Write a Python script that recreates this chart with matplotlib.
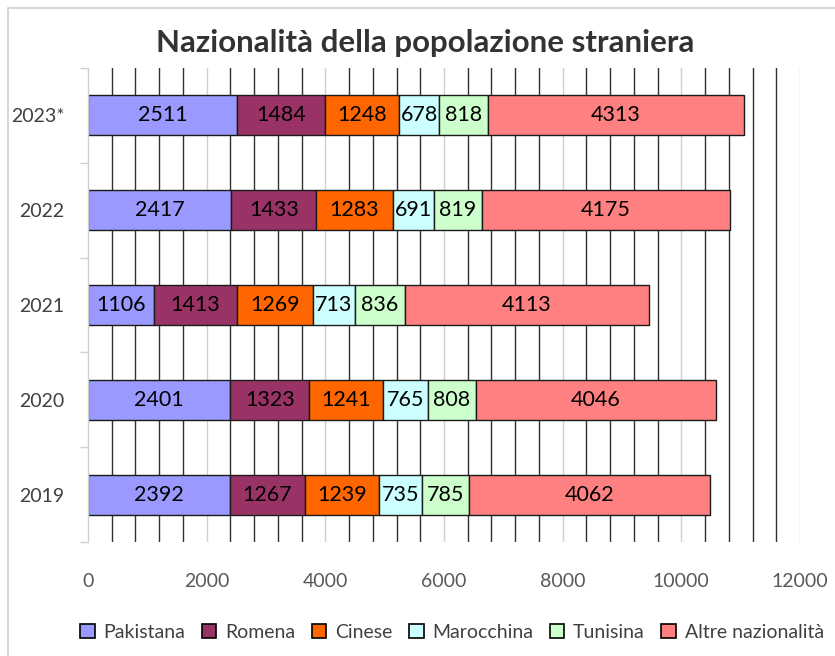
import numpy as np
import matplotlib
matplotlib.use('Agg')
import matplotlib.pyplot as plt
from matplotlib.patches import Rectangle

plt.rcParams['font.family'] = ['Lato', 'DejaVu Sans']

years = ['2019', '2020', '2021', '2022', '2023*']
series = ['Pakistana', 'Romena', 'Cinese', 'Marocchina', 'Tunisina', 'Altre nazionalità']
colors = ['#9999FF', '#993366', '#FF6600', '#CCFFFF', '#CCFFCC', '#FF8080']

pakistana = [2392, 2401, 1106, 2417, 2511]
romena = [1267, 1323, 1413, 1433, 1484]
cinese = [1239, 1241, 1269, 1283, 1248]
marocchina = [735, 765, 713, 691, 678]
tunisina = [785, 808, 836, 819, 818]
altre = [4062, 4046, 4113, 4175, 4313]
values = [pakistana, romena, cinese, marocchina, tunisina, altre]

W, H = 835, 656
fig = plt.figure(figsize=(W / 100, H / 100), dpi=100)
ax = fig.add_axes([88 / W, 1 - 542 / H, (800 - 88) / W, (542 - 68) / H])

# chart border (cropped on right/bottom in the reference)
fig.patches.append(Rectangle((8 / W, -0.1), 1.2, 1.1 - 8 / H, transform=fig.transFigure,
                             fill=False, edgecolor='#D0D0D0', linewidth=1.2))

y = np.arange(len(years))
left = np.zeros(len(years))
for name, vals, c in zip(series, values, colors):
    bars = ax.barh(y, vals, left=left, height=0.42, color=c, edgecolor='#1a1a1a',
                   linewidth=1.0, label=name, zorder=3)
    for b, v in zip(bars, vals):
        ax.text(b.get_x() + b.get_width() / 2, b.get_y() + b.get_height() / 2, str(v),
                ha='center', va='center', fontsize=15.5, color='black', zorder=4)
    left += np.array(vals)

ax.set_xlim(0, 12000)
ax.set_ylim(-0.5, 4.5)

# gridlines: minor every 400 dark, major every 2000 light
for gx in range(400, 12001, 400):
    col = '#D0D0D0' if gx % 2000 == 0 else '#303030'
    ax.axvline(gx, color=col, linewidth=1.0, zorder=1)

ax.set_xticks(range(0, 12001, 2000))
ax.set_xticklabels([str(t) for t in range(0, 12001, 2000)])
ax.tick_params(axis='x', length=0, pad=22, labelsize=14, labelcolor='#595959')

ax.set_yticks(y)
ax.set_yticklabels(years)
ax.set_yticks(np.arange(-0.5, 5.0, 1.0), minor=True)
ax.tick_params(axis='y', which='major', length=0, pad=17, labelsize=14, labelcolor='#404040')
ax.tick_params(axis='y', which='minor', length=6, color='#D0D0D0', width=1.0)

for s in ['top', 'right', 'bottom']:
    ax.spines[s].set_visible(False)
ax.spines['left'].set_color('#D0D0D0')
ax.spines['left'].set_linewidth(1.0)
ax.spines['left'].set_zorder(5)

fig.text(425 / W, 1 - 43 / H, 'Nazionalità della popolazione straniera', ha='center', va='center',
         fontsize=22.5, fontweight='bold', color='#333333')

leg = fig.legend(loc='center', bbox_to_anchor=(452 / W, 1 - 632 / H), ncol=6, frameon=False,
                 fontsize=14, handlelength=0.75, handleheight=0.75, handletextpad=0.45,
                 columnspacing=0.85, labelcolor='#404040', borderpad=0.2)
for h in leg.legend_handles:
    h.set_edgecolor('black')
    h.set_linewidth(1.2)

fig.savefig('out.png', dpi=100)
